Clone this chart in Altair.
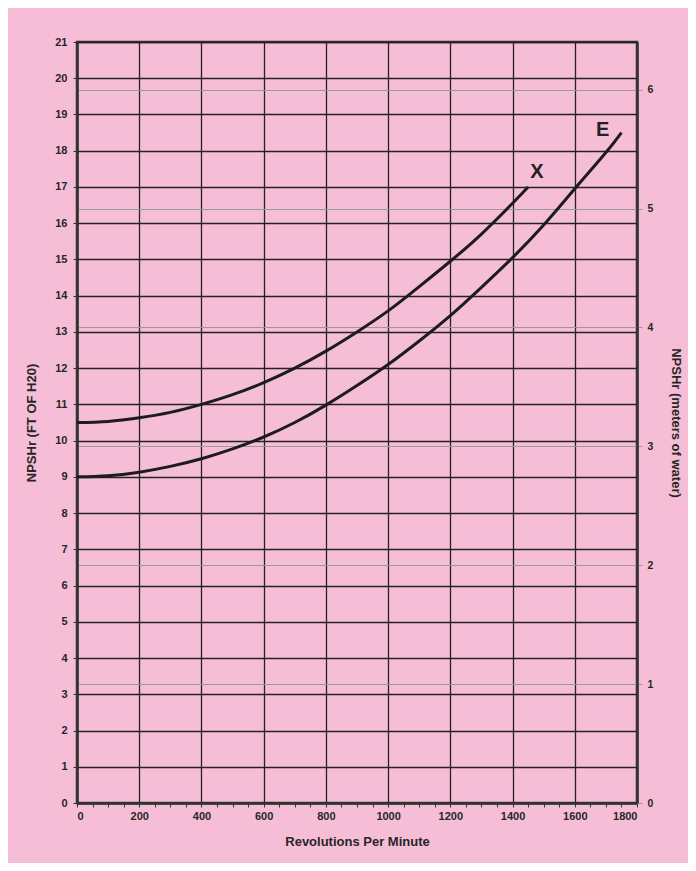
import altair as alt
import pandas as pd

# Curve X (NPSHr in feet vs RPM)
x_rpm = [0, 100, 200, 300, 400, 500, 600, 700, 800, 900, 1000, 1100, 1200, 1300, 1400, 1450]
x_ft = [10.5, 10.53, 10.63, 10.78, 11.0, 11.27, 11.6, 12.0, 12.47, 13.0, 13.58, 14.25, 14.95, 15.7, 16.55, 17.0]

# Curve E
e_rpm = [0, 100, 200, 300, 400, 500, 600, 700, 800, 900, 1000, 1100, 1200, 1300, 1400, 1500, 1600, 1700, 1750]
e_ft = [9.0, 9.03, 9.13, 9.29, 9.5, 9.77, 10.1, 10.5, 10.98, 11.52, 12.1, 12.75, 13.45, 14.23, 15.05, 15.95, 16.95, 17.95, 18.5]

# Curve labels
label_text = ["X", "E"]
label_rpm = [1478, 1690]
label_ft = [17.4, 18.57]

# Axis ticks
y_ticks = [i * 0.5 for i in range(43)]
x_ticks = [i * 50 for i in range(37)]
m_ticks = [0, 1, 2, 3, 4, 5, 6]

FT_TO_M = 0.3048

df = pd.concat([
    pd.DataFrame({"rpm": x_rpm, "ft": x_ft, "series": "X"}),
    pd.DataFrame({"rpm": e_rpm, "ft": e_ft, "series": "E"}),
])
lab = pd.DataFrame({"rpm": label_rpm, "ft": label_ft, "text": label_text})

FONT = "Liberation Sans"
INK = "#262626"

x_scale = alt.Scale(domain=[0, 1800], nice=False, zero=False)
y_scale = alt.Scale(domain=[0, 21], nice=False)

x_axis = alt.Axis(
    values=x_ticks,
    format="d",
    labelExpr="datum.value % 200 === 0 ? datum.label : ''",
    grid=True,
    gridColor="#222222",
    gridWidth=1.3,
    gridOpacity={"condition": {"test": "datum.value % 200 === 0", "value": 1}, "value": 0},
    tickColor="#333333",
    tickSize=4,
    domainColor="#333333",
    domainWidth=2.5,
    labelFont=FONT,
    labelFontSize=11,
    labelFontWeight="bold",
    labelColor=INK,
    labelPadding=3,
    title="Revolutions Per Minute",
    titleFont=FONT,
    titleFontSize=13,
    titleFontWeight="bold",
    titleColor=INK,
    titlePadding=14,
)

y_axis = alt.Axis(
    values=y_ticks,
    format="d",
    labelExpr="datum.value % 1 === 0 ? datum.label : ''",
    grid=True,
    gridColor="#222222",
    gridWidth=1.3,
    gridOpacity={"condition": {"test": "datum.value % 1 === 0", "value": 1}, "value": 0},
    tickColor="#333333",
    tickSize=4,
    domainColor="#333333",
    domainWidth=2.5,
    labelFont=FONT,
    labelFontSize=11,
    labelFontWeight="bold",
    labelColor=INK,
    labelPadding=6,
    title="NPSHr (FT OF H20)",
    titleFont=FONT,
    titleFontSize=13,
    titleFontWeight="bold",
    titleColor=INK,
    titlePadding=16,
)

m_axis = alt.Axis(
    orient="right",
    values=m_ticks,
    format="d",
    grid=True,
    gridColor="#9a9a9a",
    gridWidth=1,
    tickColor="#9a9a9a",
    tickSize=5,
    domainColor="#333333",
    domainWidth=2.5,
    labelFont=FONT,
    labelFontSize=10.5,
    labelFontWeight="bold",
    labelColor=INK,
    labelPadding=5,
    title="NPSHr (meters of water)",
    titleFont=FONT,
    titleFontSize=13,
    titleFontWeight="bold",
    titleColor=INK,
    titlePadding=16,
)

meters = alt.Chart(df).transform_calculate(
    m=f"datum.ft * {FT_TO_M}"
).mark_line(opacity=0).encode(
    x=alt.X("rpm:Q", scale=x_scale, axis=x_axis),
    y=alt.Y("m:Q", scale=alt.Scale(domain=[0, 21 * FT_TO_M], nice=False), axis=m_axis),
    detail="series:N",
)

lines = alt.Chart(df).mark_line(
    interpolate="natural", strokeWidth=3, color="#1c1c1c"
).encode(
    x=alt.X("rpm:Q", scale=x_scale, axis=x_axis),
    y=alt.Y("ft:Q", scale=y_scale, axis=y_axis),
    detail="series:N",
)

labels = alt.Chart(lab).mark_text(
    font=FONT, fontSize=20, fontWeight="bold", color="#222222"
).encode(
    x=alt.X("rpm:Q", scale=x_scale, axis=x_axis),
    y=alt.Y("ft:Q", scale=y_scale, axis=y_axis),
    text="text:N",
)

main = alt.layer(lines, labels)

chart = alt.layer(main, meters).resolve_scale(y="independent").properties(
    width=560,
    height=761,
    background="#F6BED6",
    padding={"left": 69, "top": 34, "right": 51, "bottom": 60},
    autosize=alt.AutoSizeParams(type="none"),
).configure_view(
    stroke="#333333", strokeWidth=2.5
)

chart.save("out.html", embed_options={"renderer": "svg", "actions": False})
